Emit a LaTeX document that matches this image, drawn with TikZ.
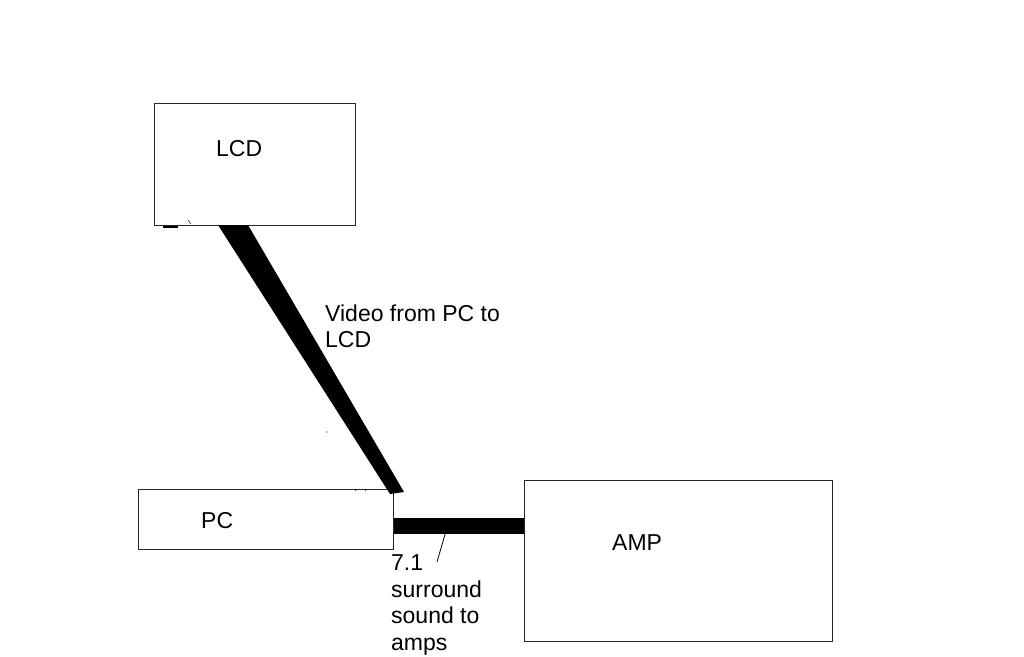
\documentclass[tikz,border=0pt]{standalone}
\usepackage{fontspec}
\setmainfont{Liberation Sans}
\begin{document}
\begin{tikzpicture}[x=1pt,y=-1pt,
  box/.style={draw=black!85, line width=1pt, inner sep=0pt},
  lbl/.style={font=\fontsize{23}{26.5}\selectfont, inner sep=0pt, anchor=base west, align=left},
  cable/.style={fill=black, draw=none}]
\useasboundingbox (0,0) rectangle (1024,656);
\node[box, minimum width=201pt, minimum height=122pt] (lcd) at (254.5,164) {};
\node[box, minimum width=255pt, minimum height=60pt] (pc) at (265.5,519) {};
\node[box, minimum width=308pt, minimum height=161pt] (amp) at (678,560.5) {};
\node[lbl] (lcdt) at (216,156) {LCD};
\node[lbl] (pct) at (201,528) {PC};
\node[lbl] (ampt) at (612,550) {AMP};
\node[lbl] (vid) at (325,347.5) {Video from PC to\\LCD};
\node[lbl] (sur) at (391,650) {7.1\\surround\\sound to\\amps};
% video cable
\fill[cable] (218,225) -- (248,225) -- (404,492) -- (390,494) -- cycle;
% audio cable
\fill[cable] (pc.east |- 0,518) rectangle (amp.west |- 0,534);
% pointer tick
\draw[line width=0.8pt] (446,531) -- (437,562);
% small marks
\draw[line width=1.5pt] (163,227) -- (178,227);
\draw[line width=0.5pt] (188,220) -- (191,224);
\draw[line width=0.5pt] (355,489) -- (356,491) (365,489) -- (366,491);
\fill (327,432) circle (0.6);
\end{tikzpicture}
\end{document}
